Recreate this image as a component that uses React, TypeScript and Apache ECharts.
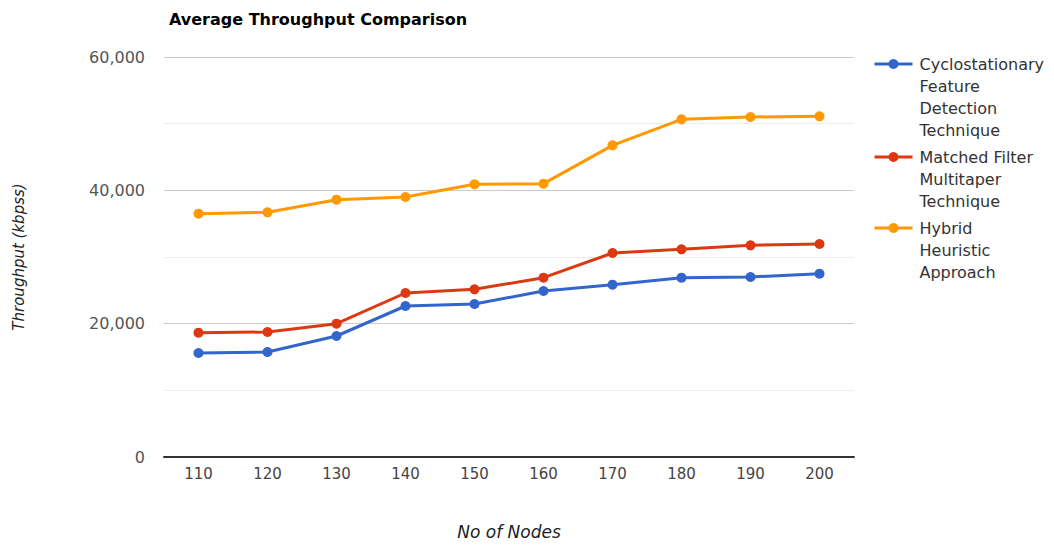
import React, { useEffect, useRef } from "react";
import * as echarts from "echarts";

const categories = ["110", "120", "130", "140", "150", "160", "170", "180", "190", "200"];
const seriesNames = [
  "Cyclostationary Feature Detection Technique",
  "Matched Filter Multitaper Technique",
  "Hybrid Heuristic Approach",
];
const legendLabels = [
  "Cyclostationary\nFeature\nDetection\nTechnique",
  "Matched Filter\nMultitaper\nTechnique",
  "Hybrid\nHeuristic\nApproach",
];
const cyclostationary = [15600, 15750, 18150, 22650, 22950, 24900, 25850, 26900, 27000, 27500];
const matchedFilter = [18650, 18750, 20000, 24600, 25150, 26900, 30600, 31150, 31750, 31950];
const hybrid = [36500, 36700, 38600, 39000, 40900, 41000, 46750, 50650, 51000, 51100];
const seriesData = [cyclostationary, matchedFilter, hybrid];
const colors = ["#3366cc", "#dc3912", "#ff9900"];
const yTicks = { min: 0, max: 60000, interval: 20000 };

const FONT = "DejaVu Sans";

export default function App() {
  const ref = useRef<HTMLDivElement>(null);
  useEffect(() => {
    if (!ref.current) return;
    const chart = echarts.init(ref.current, null, { renderer: "svg" });
    const lineH = 22;
    chart.setOption({
      animation: false,
      backgroundColor: "#ffffff",
      title: {
        text: "Average Throughput Comparison",
        left: 164,
        top: 6,
        textStyle: { fontFamily: FONT, fontSize: 16, fontWeight: "bold", color: "#000" },
      },
      legend: {
        orient: "vertical",
        left: 873,
        top: -13,
        itemWidth: 38,
        itemHeight: 12.5,
        itemGap: -39,
        padding: 0,
        lineStyle: { width: 3 },
        formatter: (name: string) => {
          const label = legendLabels[seriesNames.indexOf(name)];
          const n = label.split("\n").length;
          return "\n".repeat(n - 1) + label;
        },
        textStyle: { fontFamily: FONT, fontSize: 16, color: "#333", lineHeight: lineH, padding: [0, 0, 0, 2] },
        data: seriesNames,
      },
      grid: { left: 164, right: 200, top: 57, bottom: 88 },
      xAxis: {
        type: "category",
        data: categories,
        boundaryGap: true,
        name: "No of Nodes",
        nameLocation: "middle",
        nameGap: 66,
        nameTextStyle: { fontFamily: FONT, fontSize: 17, fontStyle: "italic", color: "#222" },
        axisLine: { lineStyle: { color: "#333", width: 2 } },
        axisTick: { show: false },
        axisLabel: { fontFamily: FONT, fontSize: 15, color: "#444", margin: 9 },
      },
      yAxis: {
        type: "value",
        min: yTicks.min,
        max: yTicks.max,
        interval: yTicks.interval,
        name: "Throughput (kbpss)",
        nameLocation: "middle",
        nameGap: 138,
        nameTextStyle: { fontFamily: FONT, fontSize: 15, fontStyle: "italic", color: "#222" },
        axisLine: { show: false },
        axisTick: { show: false },
        axisLabel: {
          fontFamily: FONT,
          fontSize: 16,
          color: "#555",
          margin: 19,
          formatter: (v: number) => v.toLocaleString("en-US"),
        },
        splitLine: { lineStyle: { color: "#cccccc", width: 1 } },
        minorTick: { show: false, splitNumber: 2 },
        minorSplitLine: { show: true, lineStyle: { color: "#ececec", width: 1 } },
      },
      series: seriesNames.map((n, i) => ({
        name: n,
        type: "line",
        data: seriesData[i],
        color: colors[i],
        symbol: "circle",
        symbolSize: 10,
        lineStyle: { width: 3, color: colors[i] },
        itemStyle: { color: colors[i] },
      })),
    });
    return () => chart.dispose();
  }, []);
  return (
    <div
      ref={ref}
      style={{ position: "fixed", left: 0, top: 0, width: 1054, height: 545 }}
    />
  );
}
